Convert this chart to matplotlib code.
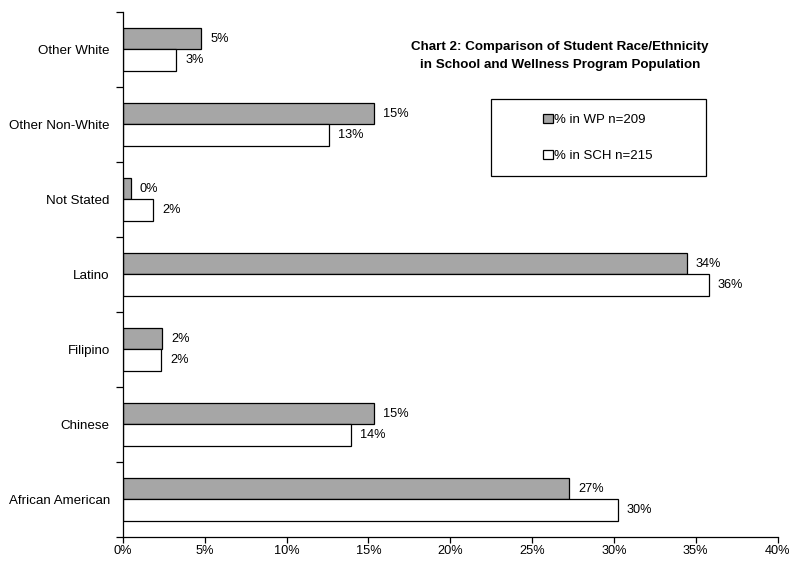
import matplotlib.pyplot as plt
from matplotlib.patches import Rectangle
from matplotlib.ticker import FixedLocator, PercentFormatter
import numpy as np

plt.rcParams['font.family'] = ['Liberation Sans', 'DejaVu Sans']

# bottom to top, as drawn
categories = ["African American", "Chinese", "Filipino", "Latino",
              "Not Stated", "Other Non-White", "Other White"]
wp_pct = [27.27, 15.31, 2.39, 34.45, 0.48, 15.31, 4.78]
sch_pct = [30.23, 13.95, 2.33, 35.81, 1.86, 12.56, 3.26]
wp_label = "% in WP n=209"
sch_label = "% in SCH n=215"
title = "Chart 2: Comparison of Student Race/Ethnicity\nin School and Wellness Program Population"

fig = plt.figure(figsize=(7.91, 5.63), dpi=100)
ax = fig.add_axes([0.1555, 0.0462, 0.8275, 0.9325])

y = np.arange(len(categories))
h = 0.285
b_wp = ax.barh(y + h / 2, wp_pct, height=h, color="#a6a6a6",
               edgecolor="black", linewidth=0.9, label=wp_label)
b_sch = ax.barh(y - h / 2, sch_pct, height=h, color="white",
                edgecolor="black", linewidth=0.9, label=sch_label)

for bars, vals in ((b_wp, wp_pct), (b_sch, sch_pct)):
    for bar, v in zip(bars, vals):
        ax.annotate(f"{v:.0f}%", (v, bar.get_y() + bar.get_height() / 2),
                    xytext=(6.5, 0), textcoords="offset points",
                    va="center", ha="left", fontsize=9.2)

ax.set_xlim(0, 40)
ax.set_ylim(-0.5, len(categories) - 0.5)
ax.set_xticks(np.arange(0, 41, 5))
ax.xaxis.set_major_formatter(PercentFormatter(decimals=0))
ax.set_yticks(y)
ax.set_yticklabels(categories)
ax.yaxis.set_minor_locator(FixedLocator(np.arange(-0.5, len(categories), 1)))
ax.tick_params(axis="y", which="major", length=0, pad=9.5, labelsize=9.6)
ax.tick_params(axis="y", which="minor", length=5, width=0.9)
ax.tick_params(axis="x", length=4, width=0.9, labelsize=9.2, pad=2)
for s in ("top", "right"):
    ax.spines[s].set_visible(False)
for s in ("left", "bottom"):
    ax.spines[s].set_linewidth(0.9)

fig.text(560 / 791, 1 - 56 / 563, title, ha="center", va="center",
         fontsize=9.6, fontweight="bold", linespacing=1.65)

# legend box
fig.patches.append(Rectangle((491 / 791, 1 - 176 / 563), 215 / 791, 77 / 563,
                             transform=fig.transFigure, facecolor="white",
                             edgecolor="black", linewidth=0.9))
fig.legend(handles=[b_wp, b_sch], loc="center",
           bbox_to_anchor=(598 / 791, 1 - 138 / 563), frameon=False,
           fontsize=9.5, handlelength=0.7, handleheight=0.7,
           handletextpad=0.1, labelspacing=1.75)

fig.savefig("out.png", dpi=100)
